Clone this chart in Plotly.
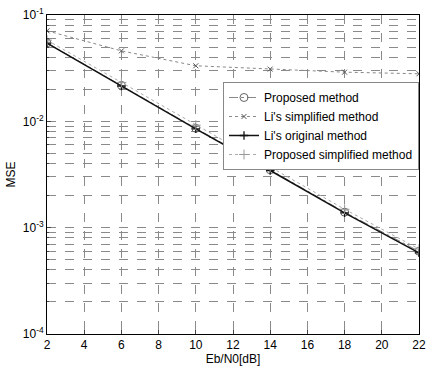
import plotly.graph_objects as go

ebn0 = [2, 6, 10, 14, 18, 22]
proposed = [0.0547, 0.0218, 0.0086, 0.0035, 0.0014, 0.0006]
li_simplified = [0.071, 0.046, 0.0333, 0.031, 0.029, 0.028]
li_original = [0.0545, 0.0215, 0.0085, 0.00345, 0.00138, 0.00058]
proposed_simplified = [0.058, 0.0232, 0.0092, 0.0037, 0.00149, 0.00063]

ytickvals = [1e-4, 1e-3, 1e-2, 1e-1]
yticktext = ["10<sup>-4</sup>", "10<sup>-3</sup>", "10<sup>-2</sup>", "10<sup>-1</sup>"]
xtickvals = [2, 4, 6, 8, 10, 12, 14, 16, 18, 20, 22]

minor_vals = [m * 10.0 ** e for e in (-4, -3, -2) for m in range(2, 10)]

fig = go.Figure()
fig.add_trace(go.Scatter(x=ebn0, y=proposed, name="Proposed method", mode="lines+markers",
                         line=dict(color="#888888", width=1, dash="dashdot"),
                         marker=dict(symbol="circle-open", size=8, color="#666666", line=dict(width=1))))
fig.add_trace(go.Scatter(x=ebn0, y=li_simplified, name="Li's simplified method", mode="lines+markers",
                         line=dict(color="#888888", width=1, dash="dot"),
                         marker=dict(symbol="x-thin-open", size=5, color="#555555", line=dict(width=1))))
fig.add_trace(go.Scatter(x=ebn0, y=li_original, name="Li's original method", mode="lines+markers",
                         line=dict(color="#111111", width=1.5),
                         marker=dict(symbol="cross-thin-open", size=6, color="#111111", line=dict(width=1.3))))
fig.add_trace(go.Scatter(x=ebn0, y=proposed_simplified, name="Proposed simplified method", mode="lines+markers",
                         line=dict(color="#aaaaaa", width=1, dash="dot"),
                         marker=dict(symbol="cross-thin-open", size=7, color="#999999", line=dict(width=1))))

grid = dict(showgrid=True, gridcolor="#8a8a8a", griddash="dash", gridwidth=1)
fig.update_layout(
    width=432, height=369,
    margin=dict(l=47, r=6, t=14, b=33),
    paper_bgcolor="white", plot_bgcolor="white",
    font=dict(family="Liberation Sans, Arial, sans-serif", size=12, color="black"),
    showlegend=True,
    legend=dict(x=1, xanchor="right", y=0.79, yanchor="top", bgcolor="white",
                bordercolor="#888888", borderwidth=1, font=dict(size=12),
                tracegroupgap=0, itemwidth=30),
    xaxis=dict(range=[2, 22], tickvals=xtickvals, ticks="inside", ticklen=4,
               ticklabeloverflow="allow",
               showline=True, linecolor="black", mirror=True, zeroline=False,
               title=dict(text="Eb/N0[dB]", standoff=2, font=dict(size=12)), **grid),
    yaxis=dict(type="log", range=[-4, -1], tickvals=ytickvals, ticktext=yticktext,
               ticks="inside", ticklen=4, showline=True, linecolor="black", mirror=True,
               title=dict(text="MSE", standoff=4, font=dict(size=12)),
               minor=dict(tickvals=minor_vals, showgrid=True, gridcolor="#8a8a8a",
                          griddash="dash", ticks="inside", ticklen=2),
               **grid),
)
fig.write_html("out.html")
